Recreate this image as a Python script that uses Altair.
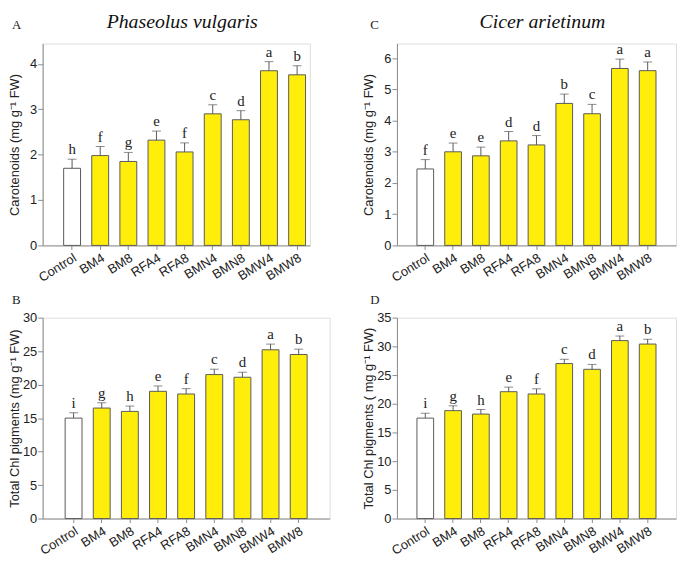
import altair as alt
import pandas as pd

categories = ["Control", "BM4", "BM8", "RFA4", "RFA8", "BMN4", "BMN8", "BMW4", "BMW8"]

# Panel A: Phaseolus vulgaris, carotenoids
a_values = [1.70, 1.98, 1.85, 2.32, 2.06, 2.90, 2.77, 3.85, 3.76]
a_sd = [0.20, 0.20, 0.20, 0.20, 0.20, 0.20, 0.20, 0.20, 0.20]
a_letters = ["h", "f", "g", "e", "f", "c", "d", "a", "b"]

# Panel C: Cicer arietinum, carotenoids
c_values = [2.45, 3.00, 2.87, 3.35, 3.22, 4.55, 4.22, 5.67, 5.60]
c_sd = [0.30, 0.28, 0.28, 0.30, 0.30, 0.30, 0.30, 0.30, 0.28]
c_letters = ["f", "e", "e", "d", "d", "b", "c", "a", "a"]

# Panel B: Phaseolus vulgaris, total Chl pigments
b_values = [15.0, 16.5, 16.0, 19.0, 18.6, 21.5, 21.1, 25.2, 24.5]
b_sd = [0.80, 0.80, 0.80, 0.80, 0.80, 0.80, 0.75, 0.85, 0.80]
b_letters = ["i", "g", "h", "e", "f", "c", "d", "a", "b"]

# Panel D: Cicer arietinum, total Chl pigments
d_values = [17.5, 18.8, 18.2, 22.1, 21.7, 27.0, 26.0, 31.0, 30.4]
d_sd = [0.85, 0.85, 0.80, 0.80, 0.90, 0.75, 0.85, 0.80, 0.85]
d_letters = ["i", "g", "h", "e", "f", "c", "d", "a", "b"]

species = ["Phaseolus vulgaris", "Cicer arietinum"]

YELLOW = "#FFEE0A"
EDGE = "#5a5a5a"
FRAME = "#8c8c8c"
SANS = "Liberation Sans"
SERIF = "Liberation Serif"


def panel(values, sd, letters, ytitle, ymax, tick_vals, width, height,
          pad_outer, align, title_pad, letter, letter_dx, letter_dy, title=None):
    df = pd.DataFrame({
        "cat": categories,
        "val": values,
        "top": [v + s for v, s in zip(values, sd)],
        "sig": letters,
        "fill": ["Control" if c == "Control" else "Treatment" for c in categories],
    })
    xaxis = alt.Axis(labelAngle=328, labelFont=SANS, labelFontSize=13,
                     labelColor="#222", tickColor=FRAME, tickSize=4,
                     domainColor=FRAME, labelPadding=2)
    xscale = alt.Scale(paddingInner=0.40, paddingOuter=pad_outer, align=align)
    yaxis = alt.Axis(values=tick_vals, grid=False, labelFont=SANS, labelFontSize=13,
                     labelColor="#222", titleFont=SANS, titleFontSize=13,
                     titleFontWeight="normal", titleColor="#222",
                     tickColor=FRAME, tickSize=5, domainColor=FRAME,
                     titlePadding=title_pad, labelPadding=1)
    yscale = alt.Scale(domain=[0, ymax], nice=False, zero=True)

    def X():
        return alt.X("cat:N", sort=categories, title=None, scale=xscale, axis=xaxis)

    def Y(field):
        return alt.Y(field, title=ytitle, scale=yscale, axis=yaxis)

    base = alt.Chart(df)
    bars = base.mark_bar(stroke=EDGE, strokeWidth=1).encode(
        x=X(), y=Y("val:Q"),
        fill=alt.Fill("fill:N", scale=alt.Scale(domain=["Control", "Treatment"],
                                                range=["#ffffff", YELLOW]), legend=None),
    )
    err = base.mark_rule(color=EDGE, strokeWidth=1).encode(
        x=X(), y=Y("val:Q"), y2="top:Q")
    cap = base.mark_tick(color=EDGE, thickness=1, size=9, orient="horizontal").encode(
        x=X(), y=Y("top:Q"))
    sig = base.mark_text(font=SERIF, fontSize=15, baseline="bottom", dy=-2,
                         color="#222").encode(
        x=X(), y=Y("top:Q"), text="sig:N")
    lab = alt.Chart(alt.Data(values=[{"l": letter}])).mark_text(
        font=SERIF, fontSize=13, align="left", baseline="middle", color="#222").encode(
        x=alt.value(letter_dx), y=alt.value(letter_dy), text="l:N")
    layers = [bars, err, cap, sig, lab]
    if title is not None:
        ttl = alt.Chart(alt.Data(values=[{"t": title}])).mark_text(
            font=SERIF, fontSize=20, fontStyle="italic", align="center",
            baseline="middle", color="#111").encode(
            x=alt.value(width / 2 + 6), y=alt.value(-22), text="t:N")
        layers.append(ttl)
    return alt.layer(*layers).properties(width=width, height=height)


pA = panel(a_values, a_sd, a_letters, "Carotenoids (mg g\u207b\u00b9 FW)", 4.45,
           [0, 1, 2, 3, 4], 270, 204, 0.45, 0.83, 8, "A", -31, -19, species[0])
pC = panel(c_values, c_sd, c_letters, "Carotenoids (mg g\u207b\u00b9 FW)", 6.47,
           [0, 1, 2, 3, 4, 5, 6], 282, 204, 0.72, 0.5, 8, "C", -27, -19, species[1])
pB = panel(b_values, b_sd, b_letters, "Total Chl pigments (mg g\u207b\u00b9 FW)", 30,
           [0, 5, 10, 15, 20, 25, 30], 290, 203, 0.8, 0.5, 1, "B", -31, -18)
pD = panel(d_values, d_sd, d_letters, "Total Chl pigments ( mg g\u207b\u00b9 FW)", 35,
           [0, 5, 10, 15, 20, 25, 30, 35], 282, 203, 0.72, 0.5, 1, "D", -27, -18)

row1 = alt.hconcat(pA, pC, spacing=52)
row2 = alt.hconcat(pB, pD, spacing=32)
chart = alt.vconcat(row1, row2, spacing=8).properties(
    padding={"left": 0, "top": 0, "right": 0, "bottom": 0}
).configure_view(stroke=FRAME, strokeWidth=1).configure(background="white")

chart.save("out.html", embed_options={"renderer": "svg", "actions": False})
